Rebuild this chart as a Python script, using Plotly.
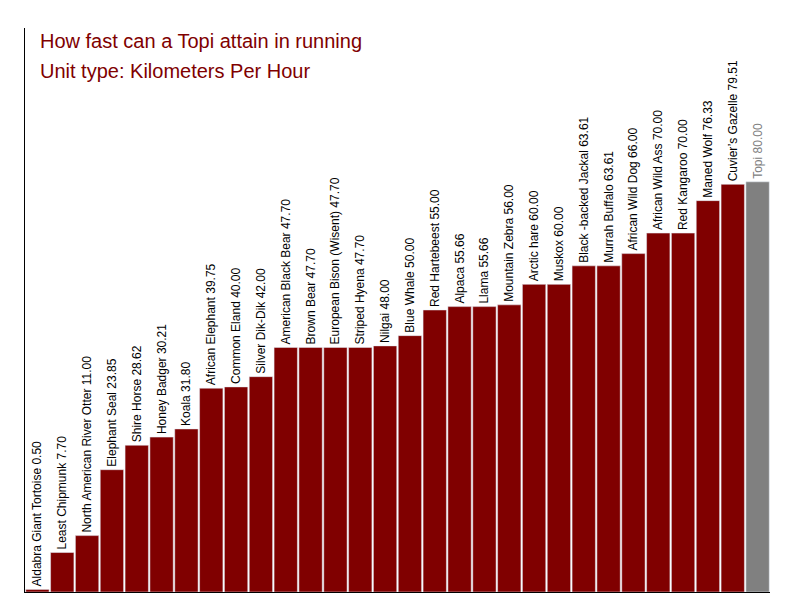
import plotly.graph_objects as go

animals = ["Aldabra Giant Tortoise", "Least Chipmunk", "North American River Otter",
           "Elephant Seal", "Shire Horse", "Honey Badger", "Koala", "African Elephant",
           "Common Eland", "Silver Dik-Dik", "American Black Bear", "Brown Bear",
           "European Bison (Wisent)", "Striped Hyena", "Nilgai", "Blue Whale",
           "Red Hartebeest", "Alpaca", "Llama", "Mountain Zebra", "Arctic hare",
           "Muskox", "Black -backed Jackal", "Murrah Buffalo", "African Wild Dog",
           "African Wild Ass", "Red Kangaroo", "Maned Wolf", "Cuvier\u2019s Gazelle", "Topi"]
speeds = [0.50, 7.70, 11.00, 23.85, 28.62, 30.21, 31.80, 39.75, 40.00, 42.00,
          47.70, 47.70, 47.70, 47.70, 48.00, 50.00, 55.00, 55.66, 55.66, 56.00,
          60.00, 60.00, 63.61, 63.61, 66.00, 70.00, 70.00, 76.33, 79.51, 80.00]

colors = ["#800000"] * (len(animals) - 1) + ["#808080"]
text_colors = ["#000000"] * (len(animals) - 1) + ["#808080"]
labels = [f"{a} {v:.2f}" for a, v in zip(animals, speeds)]

fig = go.Figure(go.Bar(
    x=list(range(len(animals))), y=speeds, marker_color=colors, text=labels,
    textposition="outside", textangle=-90, cliponaxis=False, constraintext="none",
    textfont=dict(size=12, color=text_colors, family="Liberation Sans"),
    hoverinfo="skip",
))
fig.update_layout(
    width=800, height=600, plot_bgcolor="white", paper_bgcolor="white",
    margin=dict(l=17, r=38, t=20, b=16, autoexpand=False), bargap=0.06, showlegend=False,
    font=dict(family="Liberation Sans"),
    xaxis=dict(showticklabels=False, showgrid=False, zeroline=False, showline=True,
               linecolor="black", range=[-0.5, len(animals) - 0.5], automargin=False),
    yaxis=dict(showticklabels=False, showgrid=False, zeroline=False, showline=True,
               linecolor="black", range=[0, 110], automargin=False),
    annotations=[
        dict(text="How fast can a Topi attain in running", xref="paper", yref="paper",
             x=0.018, y=1.0, xanchor="left", yanchor="top", showarrow=False,
             font=dict(size=20, color="#800000")),
        dict(text="Unit type: Kilometers Per Hour", xref="paper", yref="paper",
             x=0.018, y=0.947, xanchor="left", yanchor="top", showarrow=False,
             font=dict(size=20, color="#800000")),
    ],
)
fig.write_html("out.html")
